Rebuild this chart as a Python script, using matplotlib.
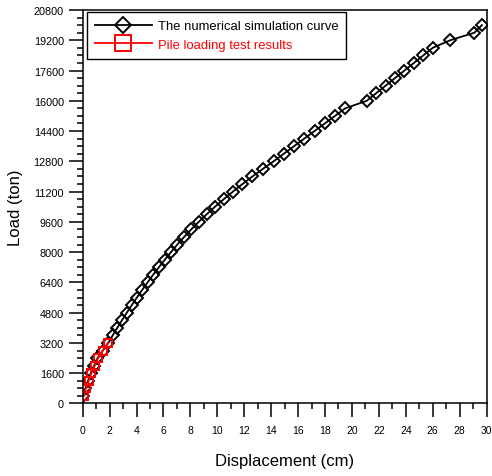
import matplotlib
matplotlib.use("Agg")
import matplotlib.pyplot as plt
from matplotlib.ticker import MultipleLocator

plt.rcParams['font.family'] = ['Liberation Sans', 'DejaVu Sans']

# numerical simulation: load steps of 400 ton
sim_load = [400, 800, 1200, 1600, 2000, 2400, 2800, 3200, 3600, 4000,
            4400, 4800, 5200, 5600, 6000, 6400, 6800, 7200, 7600, 8000,
            8400, 8800, 9200, 9600, 10000, 10400, 10800, 11200, 11600, 12000,
            12400, 12800, 13200, 13600, 14000, 14400, 14800, 15200, 15600, 16000,
            16400, 16800, 17200, 17600, 18000, 18400, 18800, 19200, 19600, 20000]
sim_disp = [0.05, 0.2, 0.4, 0.6, 0.85, 1.1, 1.5, 1.9, 2.23, 2.57,
            2.92, 3.28, 3.65, 4.03, 4.42, 4.82, 5.23, 5.66, 6.10, 6.56,
            7.03, 7.53, 8.06, 8.62, 9.21, 9.83, 10.48, 11.16, 11.87, 12.61,
            13.38, 14.18, 14.94, 15.70, 16.46, 17.22, 17.98, 18.74, 19.5, 21.1,
            21.8, 22.5, 23.2, 23.9, 24.6, 25.3, 26.0, 27.3, 29.1, 29.65]

# pile loading test
test_load = [400, 800, 1200, 1600, 2000, 2400, 2800, 3200]
test_disp = [0.1, 0.25, 0.45, 0.65, 0.9, 1.15, 1.5, 1.9]

fig = plt.figure(figsize=(4.92, 4.77), dpi=100)
ax = fig.add_axes([0.168, 0.152, 0.821, 0.825])

ax.plot(sim_disp, sim_load, color='black', lw=1.3, marker='D', ms=6,
        mfc='none', mec='black', mew=1.4, label='The numerical simulation curve')
ax.plot(test_disp, test_load, color='red', lw=1.3, marker='s', ms=6.3,
        mfc='none', mec='red', mew=1.4, label='Pile loading test results')

ax.set_xlim(0, 30)
ax.set_ylim(0, 20800)
ax.xaxis.set_major_locator(MultipleLocator(2))
ax.xaxis.set_minor_locator(MultipleLocator(1))
ax.yaxis.set_major_locator(MultipleLocator(1600))
ax.yaxis.set_minor_locator(MultipleLocator(400))

ax.tick_params(which='major', direction='out', length=10, width=1.1)
ax.tick_params(which='minor', direction='out', length=4.5, width=1.1)
ax.tick_params(axis='x', which='major', labelsize=7.5, pad=5.5)
ax.tick_params(axis='y', which='major', labelsize=7.8, pad=3.5)
for s in ax.spines.values():
    s.set_linewidth(1.1)

ax.set_xlabel('Displacement (cm)', fontsize=12, labelpad=13)
ax.set_ylabel('Load (ton)', fontsize=12, labelpad=8)

leg = ax.legend(loc='upper left', bbox_to_anchor=(0.01, 0.994), borderaxespad=0,
                fontsize=9.4, fancybox=False, edgecolor='black', framealpha=1,
                handlelength=4.4, handletextpad=0.45,
                labelspacing=0.5, borderpad=0.6)
leg.get_frame().set_linewidth(1.0)
leg.get_texts()[1].set_color('red')
leg.legend_handles[0].set_markersize(8.5)
leg.legend_handles[1].set_markersize(11)

fig.savefig('out.png', dpi=100)
